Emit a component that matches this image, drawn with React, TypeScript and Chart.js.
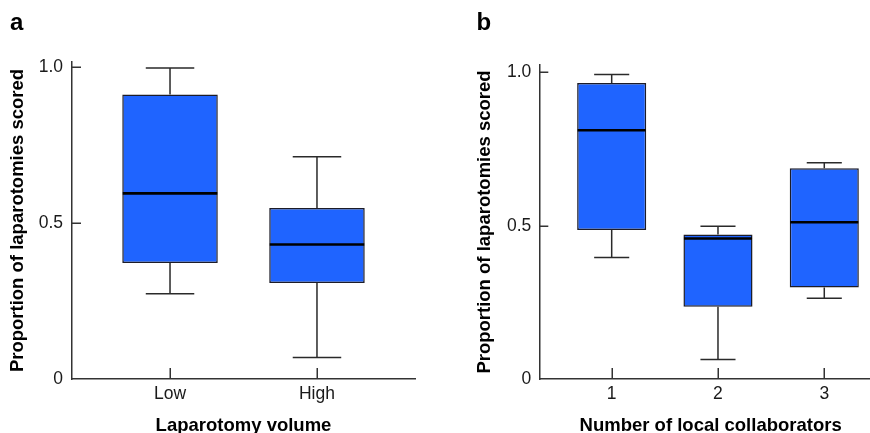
import React, { useEffect, useRef } from 'react';
import { Chart, registerables } from 'chart.js';

Chart.register(...registerables);

const FONT = '"Liberation Sans", Arial, Helvetica, sans-serif';

// ---- Panel a: laparotomy volume ----
const volumeCategories = ['Low', 'High'];
const volumeWhiskerLow = [0.273, 0.069];
const volumeQ1 = [0.372, 0.308];
const volumeMedian = [0.595, 0.431];
const volumeQ3 = [0.912, 0.548];
const volumeWhiskerHigh = [0.997, 0.712];

// ---- Panel b: number of local collaborators ----
const collabCategories = ['1', '2', '3'];
const collabWhiskerLow = [0.396, 0.064, 0.263];
const collabQ1 = [0.486, 0.236, 0.298];
const collabMedian = [0.811, 0.458, 0.511];
const collabQ3 = [0.965, 0.471, 0.687];
const collabWhiskerHigh = [0.993, 0.498, 0.705];

const yTickValues = [0, 0.5, 1.0];
const yTickLabels = ['0', '0.5', '1.0'];
const yAxisTitle = 'Proportion of laparotomies scored';

const BOX_FILL = '#1F64FF';
const BOX_EDGE = '#1c1c28';
const LINE = '#2a2a2a';

type Spec = {
  letter: string;
  letterX: number;
  left: number;
  canvasWidth: number;
  categories: string[];
  low: number[];
  q1: number[];
  median: number[];
  q3: number[];
  high: number[];
  xTitle: string;
  padding: { top: number; right: number; bottom: number; left: number };
  yWidth: number;
  xHeight: number;
  xMin: number;
  xMax: number;
  yMax: number;
  yTitlePad: number;
  yTickPad: number;
};

const specs: Spec[] = [
  {
    letter: 'a',
    letterX: 10,
    left: 0,
    canvasWidth: 435,
    categories: volumeCategories,
    low: volumeWhiskerLow,
    q1: volumeQ1,
    median: volumeMedian,
    q3: volumeQ3,
    high: volumeWhiskerHigh,
    xTitle: 'Laparotomy volume',
    padding: { top: 62, right: 20, bottom: 0, left: 0 },
    yWidth: 72,
    xHeight: 54,
    xMin: 0.333,
    xMax: 2.667,
    yMax: 1.016,
    yTitlePad: 8.25,
    yTickPad: 9,
  },
  {
    letter: 'b',
    letterX: 41.6,
    left: 435,
    canvasWidth: 460,
    categories: collabCategories,
    low: collabWhiskerLow,
    q1: collabQ1,
    median: collabMedian,
    q3: collabQ3,
    high: collabWhiskerHigh,
    xTitle: 'Number of local collaborators',
    padding: { top: 65, right: 13, bottom: 0, left: 0 },
    yWidth: 104.3,
    xHeight: 54,
    xMin: 0.319,
    xMax: 3.543,
    yMax: 1.024,
    yTitlePad: 40.25,
    yTickPad: 8,
  },
];

function makePlugin(spec: Spec) {
  const capHalf = 0.165;
  return {
    id: 'boxExtras',
    beforeDatasetsDraw(chart: any) {
      const { ctx } = chart;
      const xs = chart.scales.x;
      const ys = chart.scales.y;
      ctx.save();
      ctx.strokeStyle = LINE;
      ctx.lineWidth = 1.5;
      spec.categories.forEach((_, i) => {
        const xv = i + 1;
        const x = xs.getPixelForValue(xv);
        const xl = xs.getPixelForValue(xv - capHalf);
        const xr = xs.getPixelForValue(xv + capHalf);
        const yLow = ys.getPixelForValue(spec.low[i]);
        const yQ1 = ys.getPixelForValue(spec.q1[i]);
        const yQ3 = ys.getPixelForValue(spec.q3[i]);
        const yHigh = ys.getPixelForValue(spec.high[i]);
        ctx.beginPath();
        ctx.moveTo(x, yHigh);
        ctx.lineTo(x, yQ3);
        ctx.moveTo(x, yQ1);
        ctx.lineTo(x, yLow);
        ctx.moveTo(xl, yHigh);
        ctx.lineTo(xr, yHigh);
        ctx.moveTo(xl, yLow);
        ctx.lineTo(xr, yLow);
        ctx.stroke();
      });
      ctx.restore();
    },
    afterDatasetsDraw(chart: any) {
      const { ctx } = chart;
      const ys = chart.scales.y;
      const meta = chart.getDatasetMeta(0);
      ctx.save();
      ctx.strokeStyle = '#000';
      ctx.lineWidth = 2.6;
      spec.categories.forEach((_, i) => {
        const el = meta.data[i];
        const ym = ys.getPixelForValue(spec.median[i]);
        const half = el.width / 2 - 0.5;
        ctx.beginPath();
        ctx.moveTo(el.x - half, ym);
        ctx.lineTo(el.x + half, ym);
        ctx.stroke();
      });
      ctx.restore();
    },
    afterDraw(chart: any) {
      const { ctx, chartArea } = chart;
      const xs = chart.scales.x;
      const ys = chart.scales.y;
      ctx.save();
      ctx.strokeStyle = '#333';
      ctx.lineWidth = 1.5;
      ctx.beginPath();
      ys.ticks.forEach((t: any) => {
        if (t.value === 0) return;
        const y = Math.round(ys.getPixelForValue(t.value)) + 0.25;
        ctx.moveTo(chartArea.left, y);
        ctx.lineTo(chartArea.left + 9, y);
      });
      xs.ticks.forEach((t: any) => {
        const x = Math.round(xs.getPixelForValue(t.value)) + 0.25;
        ctx.moveTo(x, chartArea.bottom);
        ctx.lineTo(x, chartArea.bottom - 11);
      });
      ctx.stroke();
      ctx.fillStyle = '#000';
      ctx.font = `bold 24px ${FONT}`;
      ctx.textBaseline = 'alphabetic';
      ctx.textAlign = 'left';
      ctx.fillText(spec.letter, spec.letterX, 29.5);
      ctx.restore();
    },
  };
}

function Panel({ spec }: { spec: Spec }) {
  const ref = useRef<HTMLCanvasElement>(null);
  useEffect(() => {
    const canvas = ref.current;
    if (!canvas) return;
    const chart = new Chart(canvas, {
      type: 'bar',
      data: {
        datasets: [
          {
            data: spec.categories.map((_, i) => ({ x: i + 1, y: [spec.q1[i], spec.q3[i]] })) as any,
            backgroundColor: BOX_FILL,
            borderColor: BOX_EDGE,
            borderWidth: 1.5,
            borderSkipped: false,
            barPercentage: 0.65,
            categoryPercentage: 1,
          },
        ],
      },
      options: {
        animation: false,
        responsive: false,
        devicePixelRatio: 1,
        events: [],
        layout: { padding: spec.padding },
        plugins: {
          legend: { display: false },
          tooltip: { enabled: false },
        },
        scales: {
          x: {
            type: 'linear',
            min: spec.xMin,
            max: spec.xMax,
            offset: false,
            afterBuildTicks: (s: any) => {
              s.ticks = spec.categories.map((_, i) => ({ value: i + 1 }));
            },
            afterFit: (s: any) => {
              s.height = spec.xHeight;
            },
            ticks: {
              callback: (_v: any, i: number) => spec.categories[i],
              font: { family: FONT, size: 17.5 },
              color: '#1a1a1a',
              padding: 5,
              maxRotation: 0,
              autoSkip: false,
            },
            grid: { display: false, drawTicks: false, offset: false },
            border: { display: true, color: '#333', width: 1.5 },
            title: {
              display: true,
              text: spec.xTitle,
              color: '#000',
              font: { family: FONT, size: 18.5, weight: 'bold', lineHeight: 1 },
              padding: { top: 0, bottom: -2.3 },
            },
          },
          y: {
            type: 'linear',
            min: 0,
            max: spec.yMax,
            afterBuildTicks: (s: any) => {
              s.ticks = yTickValues.map((v) => ({ value: v }));
            },
            afterFit: (s: any) => {
              s.width = spec.yWidth;
            },
            ticks: {
              callback: (_v: any, i: number) => yTickLabels[i],
              font: { family: FONT, size: 17.5 },
              color: '#1a1a1a',
              padding: spec.yTickPad,
            },
            grid: { display: false, drawTicks: false },
            border: { display: true, color: '#333', width: 1.5 },
            title: {
              display: true,
              text: yAxisTitle,
              color: '#000',
              font: { family: FONT, size: 18.5, weight: 'bold', lineHeight: 1 },
              padding: { top: spec.yTitlePad, bottom: 0 },
            },
          },
        },
      } as any,
      plugins: [makePlugin(spec) as any],
    });
    return () => chart.destroy();
  }, [spec]);
  return (
    <canvas
      ref={ref}
      width={spec.canvasWidth}
      height={433}
      style={{ position: 'absolute', left: spec.left, top: 0, width: spec.canvasWidth, height: 433 }}
    />
  );
}

export default function App() {
  return (
    <div
      style={{
        position: 'fixed',
        left: 0,
        top: 0,
        width: 870,
        height: 433,
        overflow: 'hidden',
        background: '#fff',
      }}
    >
      {specs.map((s) => (
        <Panel key={s.letter} spec={s} />
      ))}
    </div>
  );
}
